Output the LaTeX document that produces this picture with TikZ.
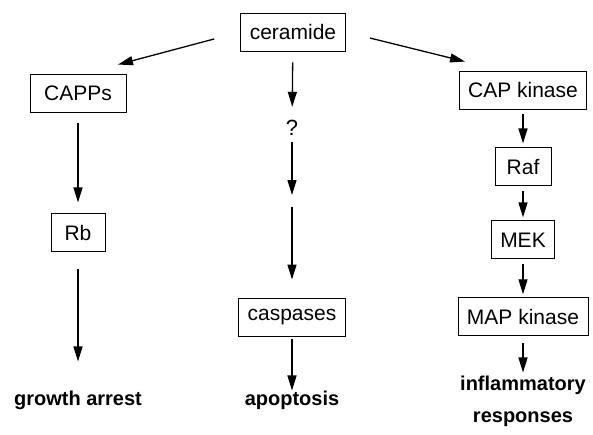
\documentclass[tikz,border=0pt]{standalone}
\usepackage{fontspec}
\setmainfont{Liberation Sans}
\usetikzlibrary{arrows.meta,positioning}

\begin{document}
\begin{tikzpicture}[
    x=1pt, y=-1pt,
    node distance=38pt,
    molecule/.style={draw, line width=0.9pt, font=\fontsize{21}{25}\selectfont, minimum height=38pt, inner xsep=9pt},
    outcome/.style={align=center, inner sep=0pt, font=\fontsize{20}{32}\selectfont\bfseries},
    signal/.style={-{Triangle[length=15pt,width=9pt]}, line width=1.3pt}
  ]
    \useasboundingbox (0,0) rectangle (593,434);
    \node[molecule] (cer) at (293,32) {ceramide};
    \node[molecule, minimum width=96pt] (capps) at (78,93) {CAPPs};
    \node[molecule] (capk) at (523,90) {CAP kinase};
    \node[molecule, minimum width=54pt, below=101pt of capps] (rb) {Rb};
    \node[molecule, minimum width=56pt, below=38pt of capk] (raf) {Raf};
    \node[molecule, below=34pt of raf] (mek) {MEK};
    \node[molecule, below=38pt of mek] (mapk) {MAP kinase};
    \node[font=\fontsize{22}{26}\selectfont] (unk) at (292,128) {?};
    \coordinate (gap) at (292,201);
    \node[molecule] (casp) at (292,317) {caspases};
    \node[outcome] (arrest) at (78,400) {growth arrest};
    \node[outcome] (apop) at (292,400) {apoptosis};
    \node[outcome] (inflam) at (523,401) {inflammatory\\responses};
    \draw[signal, shorten <=27pt] (cer.west) -- ([xshift=40pt,yshift=9pt]capps.north);
    \draw[signal, shorten <=25pt] (cer.east) -- ([xshift=-58pt,yshift=9pt]capk.north);
    \draw[signal, shorten <=11pt, shorten >=11pt] (capps) -- (rb);
    \draw[signal, shorten <=17pt, shorten >=29pt] (rb) -- (arrest);
    \draw[signal, shorten <=11pt, shorten >=10pt] (cer) -- (unk);
    \draw[signal, shorten <=3pt, shorten >=6pt] (unk) -- (gap);
    \draw[signal, shorten <=6pt, shorten >=18pt] (gap) -- (casp);
    \draw[signal, shorten <=3pt] (casp) -- (apop);
    \draw[signal, shorten <=5pt, shorten >=4pt] (capk) -- (raf);
    \draw[signal, shorten <=5pt, shorten >=3pt] (raf) -- (mek);
    \draw[signal, shorten <=5pt, shorten >=3pt] (mek) -- (mapk);
    \draw[signal, shorten <=7pt, shorten >=3pt] (mapk) -- (inflam);
\end{tikzpicture}
\end{document}
